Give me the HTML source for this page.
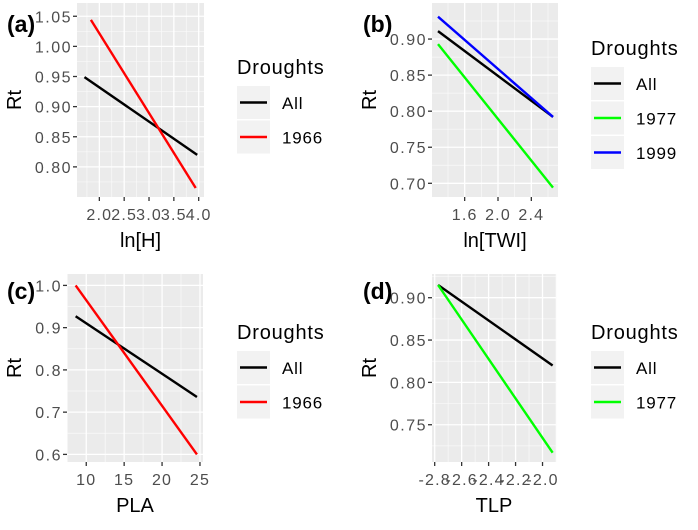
<!DOCTYPE html>
<html><head><meta charset="utf-8"><style>
body{margin:0;background:#fff;}
svg{display:block;font-family:"Liberation Sans",Arial,sans-serif;}
</style></head><body>
<svg id="fig" width="698" height="530" viewBox="0 0 698 530"></svg>
<script>
// Panel (a)
const aTicksX=[2.0,2.5,3.0,3.5,4.0];
const aTickLabX=["2.0","2.5","3.0","3.5","4.0"];
const aTicksY=[0.80,0.85,0.90,0.95,1.00,1.05];
const aTickLabY=["0.80","0.85","0.90","0.95","1.00","1.05"];
const aSeriesNames=["All","1966"];
const aAllX=[1.70,3.97];const aAllY=[0.949,0.820];
const a1966X=[1.83,3.94];const a1966Y=[1.044,0.765];
// Panel (b)
const bTicksX=[1.6,2.0,2.4];
const bTickLabX=["1.6","2.0","2.4"];
const bTicksY=[0.70,0.75,0.80,0.85,0.90];
const bTickLabY=["0.70","0.75","0.80","0.85","0.90"];
const bSeriesNames=["All","1977","1999"];
const bAllX=[1.28,2.66];const bAllY=[0.911,0.792];
const b1977X=[1.28,2.66];const b1977Y=[0.893,0.694];
const b1999X=[1.28,2.66];const b1999Y=[0.931,0.792];
// Panel (c)
const cTicksX=[10,15,20,25];
const cTickLabX=["10","15","20","25"];
const cTicksY=[0.6,0.7,0.8,0.9,1.0];
const cTickLabY=["0.6","0.7","0.8","0.9","1.0"];
const cSeriesNames=["All","1966"];
const cAllX=[8.6,24.6];const cAllY=[0.927,0.736];
const c1966X=[8.6,24.6];const c1966Y=[1.0,0.60];
// Panel (d)
const dTicksX=[-2.8,-2.6,-2.4,-2.2,-2.0];
const dTickLabX=["-2.8","-2.6","-2.4","-2.2","-2.0"];
const dTicksY=[0.75,0.80,0.85,0.90];
const dTickLabY=["0.75","0.80","0.85","0.90"];
const dSeriesNames=["All","1977"];
const dAllX=[-2.775,-1.925];const dAllY=[0.915,0.820];
const d1977X=[-2.775,-1.925];const d1977Y=[0.915,0.717];

const NS="http://www.w3.org/2000/svg";
const svg=document.getElementById('fig');
function mk(tag,attrs,parent){const e=document.createElementNS(NS,tag);for(const k in attrs)e.setAttribute(k,attrs[k]);(parent||svg).appendChild(e);return e;}

function panel(cfg){
  const g=mk('g',{});
  
  
  const sx=v=>cfg.px0+(v-cfg.xmin)/(cfg.xmax-cfg.xmin)*(cfg.px1-cfg.px0);
  const sy=v=>cfg.py1-(v-cfg.ymin)/(cfg.ymax-cfg.ymin)*(cfg.py1-cfg.py0);
  const bg=mk('rect',{x:cfg.px0,y:cfg.py0,width:cfg.px1-cfg.px0,height:cfg.py1-cfg.py0,fill:'#ebebeb'},g);
  
  
  const mx=[],my=[];
  const dx=cfg.ticksX[1]-cfg.ticksX[0], dy=cfg.ticksY[1]-cfg.ticksY[0];
  for(let v=cfg.ticksX[0]-dx/2;v<=cfg.xmax;v+=dx) if(v>=cfg.xmin) mx.push(v);
  for(let v=cfg.ticksY[0]-dy/2;v<=cfg.ymax;v+=dy) if(v>=cfg.ymin) my.push(v);
  mx.forEach(v=>mk('line',{x1:sx(v),x2:sx(v),y1:cfg.py0,y2:cfg.py1,stroke:'#fafafa','stroke-width':0.7},g));
  my.forEach(v=>mk('line',{x1:cfg.px0,x2:cfg.px1,y1:sy(v),y2:sy(v),stroke:'#fafafa','stroke-width':0.7},g));
  cfg.ticksX.forEach((v,i)=>{
    mk('line',{x1:sx(v),x2:sx(v),y1:cfg.py0,y2:cfg.py1,stroke:'#fff','stroke-width':1.3},g);
    mk('line',{x1:sx(v),x2:sx(v),y1:cfg.py1,y2:cfg.py1+4,stroke:'#333','stroke-width':1.3},g);
    const t=mk('text',{x:sx(v),y:cfg.py1+23,'text-anchor':'middle','font-size':16,'letter-spacing':1.2,fill:'#4d4d4d'},g);
    t.textContent=cfg.labX[i];
    
    
  });
  cfg.ticksY.forEach((v,i)=>{
    mk('line',{x1:cfg.px0,x2:cfg.px1,y1:sy(v),y2:sy(v),stroke:'#fff','stroke-width':1.3},g);
    mk('line',{x1:cfg.px0-4,x2:cfg.px0,y1:sy(v),y2:sy(v),stroke:'#333','stroke-width':1.3},g);
    const t=mk('text',{x:cfg.px0-5,y:sy(v)+6,'text-anchor':'end','font-size':16,'letter-spacing':1.5,fill:'#4d4d4d'},g);
    t.textContent=cfg.labY[i];
    
    
  });
  cfg.series.forEach(s=>{
    const pts=s.x.map((v,i)=>sx(v)+','+sy(s.y[i])).join(' ');
    const l=mk('polyline',{points:pts,fill:'none',stroke:s.color,'stroke-width':2.4},g);
    
    
  });
  const xt=mk('text',{x:(cfg.px0+cfg.px1)/2,y:cfg.py1+50,'text-anchor':'middle','font-size':20,fill:'#000'},g);
  xt.textContent=cfg.xtitle;
  
  
  const yc=(cfg.py0+cfg.py1)/2;
  const yt=mk('text',{x:cfg.ytx,y:yc,'text-anchor':'middle','font-size':20,fill:'#000',transform:'rotate(-90 '+cfg.ytx+' '+yc+')'},g);
  yt.textContent='Rt';
  
  
  const tag=mk('text',{x:cfg.tagx,y:cfg.tagy,'font-size':23,'font-weight':'bold',fill:'#000'},g);
  tag.textContent='('+cfg.id+')';
  
  
  const lg=mk('g',{},g);
  
  
  const lt=mk('text',{x:cfg.lx,y:cfg.ly,'font-size':20,'letter-spacing':0.8,fill:'#000'},lg);
  lt.textContent='Droughts';
  
  
  cfg.series.forEach((s,i)=>{
    const ky=cfg.ly+12+i*34.5;
    const kb=mk('rect',{x:cfg.lx,y:ky,width:33,height:33,fill:'#f2f2f2'},lg);
    
    
    mk('line',{x1:cfg.lx+3,x2:cfg.lx+30,y1:ky+16.5,y2:ky+16.5,stroke:s.color,'stroke-width':2.4},lg);
    const tx=mk('text',{x:cfg.lx+45,y:ky+23,'font-size':17,'letter-spacing':0.8,fill:'#000'},lg);
    tx.textContent=s.name;
    
    
  });
}

panel({id:'a',px0:77,px1:204,py0:3,py1:197,xmin:1.55,xmax:4.107,ymin:0.75,ymax:1.072,
  ticksX:aTicksX,labX:aTickLabX,ticksY:aTicksY,labY:aTickLabY,xtitle:'ln[H]',ytx:21,tagx:7,tagy:32,lx:237,ly:74,
  series:[{name:aSeriesNames[0],x:aAllX,y:aAllY,color:'#000'},{name:aSeriesNames[1],x:a1966X,y:a1966Y,color:'#ff0000'}]});
panel({id:'b',px0:432,px1:558,py0:3,py1:197,xmin:1.208,xmax:2.72,ymin:0.681,ymax:0.95,
  ticksX:bTicksX,labX:bTickLabX,ticksY:bTicksY,labY:bTickLabY,xtitle:'ln[TWI]',ytx:376,tagx:363,tagy:32,lx:591,ly:55,
  series:[{name:bSeriesNames[0],x:bAllX,y:bAllY,color:'#000'},{name:bSeriesNames[1],x:b1977X,y:b1977Y,color:'#00ff00'},{name:bSeriesNames[2],x:b1999X,y:b1999Y,color:'#0000ff'}]});
panel({id:'c',px0:67,px1:203,py0:274,py1:462,xmin:7.46,xmax:25.4,ymin:0.582,ymax:1.027,
  ticksX:cTicksX,labX:cTickLabX,ticksY:cTicksY,labY:cTickLabY,xtitle:'PLA',ytx:21,tagx:7,tagy:299,lx:237,ly:339,
  series:[{name:cSeriesNames[0],x:cAllX,y:cAllY,color:'#000'},{name:cSeriesNames[1],x:c1966X,y:c1966Y,color:'#ff0000'}]});
panel({id:'d',px0:432,px1:556,py0:274,py1:462,xmin:-2.82,xmax:-1.90,ymin:0.706,ymax:0.928,
  ticksX:dTicksX,labX:dTickLabX,ticksY:dTicksY,labY:dTickLabY,xtitle:'TLP',ytx:376,tagx:363,tagy:299,lx:591,ly:339,
  series:[{name:dSeriesNames[0],x:dAllX,y:dAllY,color:'#000'},{name:dSeriesNames[1],x:d1977X,y:d1977Y,color:'#00ff00'}]});
</script>
</body></html>
